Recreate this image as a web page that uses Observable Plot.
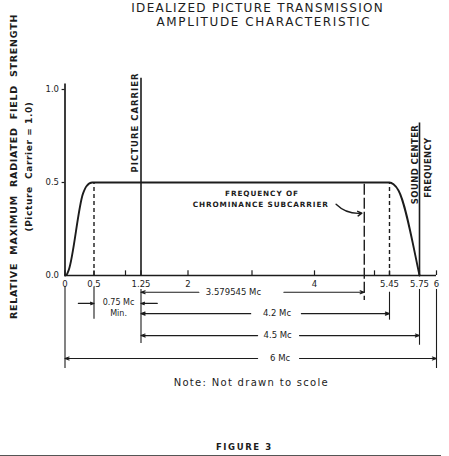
<!DOCTYPE html>
<html><head><meta charset="utf-8">
<script src="https://cdn.jsdelivr.net/npm/d3@7"></script>
<script src="https://cdn.jsdelivr.net/npm/@observablehq/plot@0.6"></script>
<style>
html,body{margin:0;padding:0;background:#fff;}
</style></head><body><div id="chart"></div>
<script>
// ---------- data ----------
const titleLines = ["IDEALIZED PICTURE TRANSMISSION", "AMPLITUDE CHARACTERISTIC"];
const yAxisTitle = "RELATIVE  MAXIMUM  RADIATED  FIELD  STRENGTH";
const yAxisSubtitle = "(Picture  Carrier = 1.0)";
const xTickValues = [0, 0.5, 1, 1.25, 2, 3, 4, 5, 5.45, 5.75, 6];
const xLabelValues = [0, 0.5, 1.25, 2, 4, 5.45, 5.75, 6];
const xLabelTexts = ["0", "0.5", "1.25", "2", "4", "5.45", "5.75", "6"];
const yTickValues = [0, 0.5, 1];
const yTickTexts = ["0.0", "0.5", "1.0"];
// idealized response (frequency in Mc, relative amplitude)
const curveMc  = [0, 0.03, 0.065, 0.31, 0.37, 0.47, 1.25, 4, 5.45, 5.49, 5.54, 5.743, 5.75];
const curveAmp = [0, 0.005, 0.03, 0.44, 0.48, 0.5, 0.5, 0.5, 0.5, 0.49, 0.457, 0.018, 0];
const lowerEdge = 0.5;
const pictureCarrier = 1.25;
const subcarrier = 1.25 + 3.579545;
const upperEdge = 5.45;
const soundCenter = 5.75;
const channelEdge = 6;
const dimLabels = ["3.579545 Mc", "4.2 Mc", "4.5 Mc", "6 Mc"];
const dimFrom = [1.25, 1.25, 1.25, 0];
const dimTo = [4.829545, 5.45, 5.75, 6];
const noteText = "Note: Not drawn to scole";
const figureText = "FIGURE 3";

// ---------- layout (not data) ----------
const dimLevel = [-0.09, -0.205, -0.323, -0.446];
const dimTextX = [2.71, 3.40, 3.41, 3.45];
const dimGap = [[2.17, 3.51], [2.98, 3.79], [3.09, 3.76], [3.09, 3.76]];
const dims = dimLabels.map((label, i) => ({label, from: dimFrom[i], to: dimTo[i], y: dimLevel[i], tx: dimTextX[i], g0: dimGap[i][0], g1: dimGap[i][1]}));
const dimArrows = dims.flatMap(d => [
  {x1: d.g0, x2: d.from, y: d.y},
  {x1: d.g1, x2: d.to, y: d.y}
]);
const curve = curveMc.map((x, i) => ({x, y: curveAmp[i]}));
const ink = "#1c1c1c";
const font = "DejaVu Sans";

const extLines = [
  {x: 0, y1: -0.06, y2: -0.5},
  {x: lowerEdge, y1: -0.065, y2: -0.235},
  {x: pictureCarrier, y1: -0.075, y2: -0.365},
  {x: upperEdge, y1: -0.09, y2: -0.24},
  {x: soundCenter, y1: -0.075, y2: -0.375},
  {x: channelEdge, y1: -0.075, y2: -0.5}
];

const chart = Plot.plot({
  width: 449, height: 456,
  marginLeft: 0, marginRight: 8, marginTop: 0, marginBottom: 0,
  x: {type: "linear", domain: xTickValues, range: [64.5, 93.5, 125, 140.5, 187.5, 251.5, 314, 374, 389, 419, 436], axis: null},
  y: {type: "linear", domain: [0, 1], range: [275, 89], axis: null},
  style: {fontFamily: font, background: "#fff", color: ink},
  marks: [
    // axes
    Plot.ruleY([0], {x1: 0, x2: channelEdge, stroke: ink, strokeWidth: 1.7}),
    Plot.ruleX([0], {y1: 0, y2: 1.03, stroke: ink, strokeWidth: 1.7}),
    Plot.ruleX(xTickValues, {y1: 0, y2: 0.025, stroke: ink, strokeWidth: 1.2}),
    Plot.ruleY(yTickValues.slice(1), {x1: -0.05, x2: 0, stroke: ink, strokeWidth: 1.2}),
    Plot.text(xLabelValues, {x: d => d, y: 0, text: (d, i) => xLabelTexts[i], dy: 9, fontSize: 8.5, fill: ink}),
    Plot.text(yTickValues, {x: 0, y: d => d, text: (d, i) => yTickTexts[i], dx: -6, textAnchor: "end", fontSize: 8.5, fill: ink}),
    // response curve
    Plot.line(curve, {x: "x", y: "y", curve: "monotone-x", stroke: ink, strokeWidth: 1.9}),
    // vertical markers
    Plot.ruleX([pictureCarrier], {y1: 0, y2: 1.06, stroke: ink, strokeWidth: 1.6}),
    Plot.ruleX([soundCenter], {y1: 0, y2: 0.82, stroke: ink, strokeWidth: 1.6}),
    Plot.ruleX([lowerEdge, upperEdge], {y1: 0, y2: 0.5, stroke: ink, strokeWidth: 1.4, strokeDasharray: "4,3"}),
    Plot.ruleX([subcarrier], {y1: 0.49, y2: -0.135, stroke: ink, strokeWidth: 1.4, strokeDasharray: "11,3"}),
    // extension lines below axis
    Plot.ruleX(extLines, {x: "x", y1: "y1", y2: "y2", stroke: ink, strokeWidth: 1.1}),
    // dimension arrows
    Plot.arrow(dimArrows, {x1: "x1", x2: "x2", y1: "y", y2: "y", stroke: ink, strokeWidth: 1.1, headLength: 6, headAngle: 40}),
    Plot.text(dims, {x: "tx", y: "y", text: "label", fontSize: 8.5, fill: ink}),
    // 0.75 Mc min
    Plot.arrow([{x1: 0.23, x2: lowerEdge}, {x1: 1.51, x2: pictureCarrier}], {x1: "x1", x2: "x2", y1: -0.15, y2: -0.15, stroke: ink, strokeWidth: 1.1, headLength: 5, headAngle: 40}),
    Plot.text(["0.75 Mc", "Min."], {x: 0.89, y: (d, i) => [-0.145, -0.205][i], text: d => d, fontSize: 8, fill: ink}),
    // labels
    Plot.text(["PICTURE CARRIER"], {x: 1.16, y: 0.823, text: d => d, rotate: -90, fontSize: 8.5, fontWeight: "bold", fill: ink}),
    Plot.text(["SOUND CENTER"], {x: 5.71, y: 0.597, text: d => d, rotate: -90, fontSize: 8.5, fontWeight: "bold", fill: ink}),
    Plot.text(["FREQUENCY"], {x: 5.875, y: 0.58, text: d => d, rotate: -90, fontSize: 8.5, fontWeight: "bold", fill: ink}),
    Plot.text(["FREQUENCY OF", "CHROMINANCE SUBCARRIER"], {x: [3.16, 3.14], y: [0.441, 0.382], text: d => d, fontSize: 7.3, fontWeight: "bold", fill: ink}),
    Plot.arrow([{}], {x1: 4.36, y1: 0.383, x2: 4.79, y2: 0.335, bend: -25, stroke: ink, strokeWidth: 1.4, headLength: 5}),
    // titles
    Plot.text(titleLines, {x: [3.09, 3.19], y: [1.435, 1.36], text: d => d, fontSize: 12, fill: ink}),
    Plot.text([yAxisTitle], {x: -0.888, y: 0.586, text: d => d, rotate: -90, fontSize: 9.5, fontWeight: "bold", fill: ink}),
    Plot.text([yAxisSubtitle], {x: -0.612, y: 0.586, text: d => d, rotate: -90, fontSize: 9, fontWeight: "bold", fill: ink}),
    Plot.text([noteText], {x: 2.99, y: -0.575, text: d => d, fontSize: 10, fill: ink}),
    Plot.text([figureText], {x: 2.88, y: -0.925, text: d => d, fontSize: 8.5, fontWeight: "bold", fill: ink}),
    Plot.ruleY([-0.97], {stroke: ink, strokeWidth: 1.5})
  ]
});
document.getElementById("chart").appendChild(chart);
const spacing = new Map([
  [titleLines[0], "1.3px"], [titleLines[1], "1.6px"],
  [yAxisTitle, "0.75px"], [yAxisSubtitle, "0.6px"],
  ["PICTURE CARRIER", "1px"], ["SOUND CENTER", "0.4px"], ["FREQUENCY", "0.3px"],
  ["FREQUENCY OF", "0.9px"], ["CHROMINANCE SUBCARRIER", "0.9px"],
  [noteText, "1.3px"], [figureText, "1.6px"]
]);
chart.querySelectorAll("text").forEach(t => {
  const v = spacing.get(t.textContent);
  if (v) { t.setAttribute("letter-spacing", v); t.setAttribute("xml:space", "preserve"); t.style.whiteSpace = "pre"; }
});
</script></body></html>
